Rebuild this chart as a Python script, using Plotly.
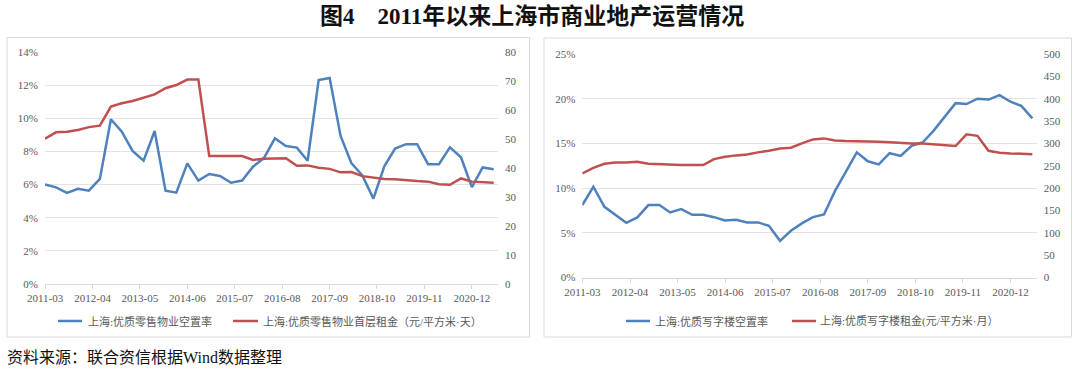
import plotly.graph_objects as go

W, H = 1080, 373

# ---------------- data ----------------
quarters = [
    "2011-03-01", "2011-06-01", "2011-09-01", "2011-12-01",
    "2012-03-01", "2012-06-01", "2012-09-01", "2012-12-01",
    "2013-03-01", "2013-06-01", "2013-09-01", "2013-12-01",
    "2014-03-01", "2014-06-01", "2014-09-01", "2014-12-01",
    "2015-03-01", "2015-06-01", "2015-09-01", "2015-12-01",
    "2016-03-01", "2016-06-01", "2016-09-01", "2016-12-01",
    "2017-03-01", "2017-06-01", "2017-09-01", "2017-12-01",
    "2018-03-01", "2018-06-01", "2018-09-01", "2018-12-01",
    "2019-03-01", "2019-06-01", "2019-09-01", "2019-12-01",
    "2020-03-01", "2020-06-01", "2020-09-01", "2020-12-01",
    "2021-03-01", "2021-06-01",
]

tick_dates = ["2011-03-01", "2012-04-01", "2013-05-01", "2014-06-01", "2015-07-01",
              "2016-08-01", "2017-09-01", "2018-10-01", "2019-11-01", "2020-12-01"]
tick_labels = ["2011-03", "2012-04", "2013-05", "2014-06", "2015-07",
               "2016-08", "2017-09", "2018-10", "2019-11", "2020-12"]

# left chart: retail
retail_vacancy = [6.0, 5.83, 5.5, 5.75, 5.63, 6.34, 9.94, 9.19, 8.03, 7.44,
                  9.23, 5.63, 5.51, 7.28, 6.24, 6.64, 6.52, 6.11, 6.24, 7.08,
                  7.6, 8.79, 8.33, 8.23, 7.44, 12.31, 12.43, 8.93, 7.3, 6.55,
                  5.15, 7.1, 8.17, 8.44, 8.44, 7.23, 7.23, 8.25, 7.65, 5.85,
                  7.03, 6.92]
retail_rent = [50.1, 52.3, 52.5, 53.1, 54.1, 54.6, 61.2, 62.3, 63.1, 64.2,
               65.4, 67.5, 68.6, 70.5, 70.5, 44.1, 44.2, 44.1, 44.1, 42.8,
               43.2, 43.4, 43.4, 40.8, 40.9, 40.1, 39.7, 38.5, 38.6, 37.2,
               36.7, 36.2, 36.1, 35.7, 35.5, 35.3, 34.4, 34.2, 36.4, 35.3,
               35.0, 34.9]

# right chart: office
office_vacancy = [8.1, 10.15, 7.91, 7.05, 6.12, 6.72, 8.1, 8.1, 7.28, 7.65,
                  7.01, 7.01, 6.75, 6.38, 6.45, 6.16, 6.16, 5.78, 4.1, 5.22,
                  6.05, 6.75, 7.05, 9.66, 11.76, 14.0, 13.0, 12.65, 13.9, 13.6,
                  14.74, 15.1, 16.4, 17.9, 19.5, 19.4, 20.0, 19.9, 20.4, 19.66,
                  19.2, 17.8]
office_rent = [232.9, 245.4, 254.4, 257.5, 257.5, 258.8, 254.4, 253.0, 251.4, 251.4,
               251.4, 251.4, 264.9, 270.0, 273.2, 275.4, 279.9, 283.5, 288.8, 290.2,
               300.0, 309.0, 311.2, 306.7, 305.2, 305.2, 305.2, 303.6, 302.3, 300.7,
               300.0, 300.0, 298.5, 296.9, 294.0, 320.2, 317.0, 283.5, 279.0, 277.6,
               277.6, 276.0]

names = ["上海:优质零售物业空置率", "上海:优质零售物业首层租金（元/平方米·天）",
         "上海:优质写字楼空置率", "上海:优质写字楼租金(元/平方米·月）"]

title_text = "图4　2011年以来上海市商业地产运营情况"
source_text = "资料来源：联合资信根据Wind数据整理"

# ---------------- style ----------------
BLUE = "#4F81BD"
RED = "#C0504D"
GRID = "#E3E3E3"
AXIS = "#D9D9D9"
LABEL = "#595959"
SERIF = "Liberation Serif, Times New Roman, Noto Sans CJK SC, serif"
TICKFONT = dict(family=SERIF, size=11, color=LABEL)


def px(x):
    return x / W


def py(y):
    return (H - y) / H


fig = go.Figure()
fig.add_trace(go.Scatter(x=quarters, y=retail_vacancy, name=names[0], mode="lines",
                         line=dict(color=BLUE, width=2.5), xaxis="x", yaxis="y",
                         showlegend=False))
fig.add_trace(go.Scatter(x=quarters, y=retail_rent, name=names[1], mode="lines",
                         line=dict(color=RED, width=2.5), xaxis="x", yaxis="y2",
                         showlegend=False))
fig.add_trace(go.Scatter(x=quarters, y=office_vacancy, name=names[2], mode="lines",
                         line=dict(color=BLUE, width=2.5), xaxis="x2", yaxis="y3",
                         showlegend=False))
fig.add_trace(go.Scatter(x=quarters, y=office_rent, name=names[3], mode="lines",
                         line=dict(color=RED, width=2.5), xaxis="x2", yaxis="y4",
                         showlegend=False))

xcommon = dict(type="date", range=["2011-03-01", "2021-07-07"],
               tickvals=tick_dates, ticktext=tick_labels, tickfont=TICKFONT,
               showgrid=False, showline=True, linecolor=AXIS, linewidth=1,
               ticks="outside", ticklen=4, tickcolor=AXIS, zeroline=False,
               fixedrange=True, automargin=False)
ycommon = dict(tickfont=TICKFONT, zeroline=False, showline=False, fixedrange=True,
               ticklabelstandoff=6, automargin=False)

fig.update_layout(
    template="none",
    width=W, height=H,
    margin=dict(l=0, r=0, t=0, b=0, pad=0, autoexpand=False),
    paper_bgcolor="white", plot_bgcolor="white",
    showlegend=False,
    xaxis=dict(domain=[px(45), px(498)], anchor="y", **xcommon),
    yaxis=dict(domain=[py(284), py(52)], range=[0, 14], dtick=2, ticksuffix="%",
               showgrid=True, gridcolor=GRID, gridwidth=1, anchor="x", **ycommon),
    yaxis2=dict(overlaying="y", side="right", range=[0, 80], dtick=10,
                showgrid=False, anchor="x", **ycommon),
    xaxis2=dict(domain=[px(582.3), px(1036.7)], anchor="y3", **xcommon),
    yaxis3=dict(domain=[py(277.5), py(54)], range=[0, 25], dtick=5, ticksuffix="%",
                showgrid=True, gridcolor=GRID, gridwidth=1, anchor="x2", **ycommon),
    yaxis4=dict(overlaying="y3", side="right", range=[0, 500], dtick=50,
                showgrid=False, anchor="x2", **ycommon),
)

shapes = []
# panel borders
shapes.append(dict(type="rect", xref="paper", yref="paper",
                   x0=px(7), x1=px(529.5), y0=py(337), y1=py(37.5),
                   line=dict(color=AXIS, width=1), layer="below"))
shapes.append(dict(type="rect", xref="paper", yref="paper",
                   x0=px(544), x1=px(1071.5), y0=py(337), y1=py(38),
                   line=dict(color=AXIS, width=1), layer="below"))

annotations = []
# manual legends
legend_items = [
    (58, 82, 86, 321, BLUE, names[0]),
    (233, 258, 261, 321, RED, names[1]),
    (626, 650, 653, 321, BLUE, names[2]),
    (792, 816, 818, 321, RED, names[3]),
]
for x0, x1, xt, yl, col, txt in legend_items:
    shapes.append(dict(type="line", xref="paper", yref="paper",
                       x0=px(x0), x1=px(x1), y0=py(yl), y1=py(yl),
                       line=dict(color=col, width=2.5)))
    annotations.append(dict(text=txt, xref="paper", yref="paper", x=px(xt), y=py(yl),
                            xanchor="left", yanchor="middle", showarrow=False,
                            font=dict(family=SERIF, size=11, color=LABEL)))

annotations.append(dict(text="<b>" + title_text + "</b>", xref="paper", yref="paper",
                        x=px(532), y=py(16), xanchor="center", yanchor="middle",
                        showarrow=False,
                        font=dict(family=SERIF, size=23, color="#111111")))
annotations.append(dict(text=source_text, xref="paper", yref="paper",
                        x=px(5), y=py(357), xanchor="left", yanchor="middle",
                        showarrow=False,
                        font=dict(family=SERIF, size=16, color="#111111")))

fig.update_layout(shapes=shapes, annotations=annotations)

# remove the default page margin so the figure sits at the window origin
fig.write_html("out.html",
               config={"displayModeBar": False, "staticPlot": True},
               post_script="document.body.style.margin='0';"
                           "document.body.style.overflow='hidden';")
